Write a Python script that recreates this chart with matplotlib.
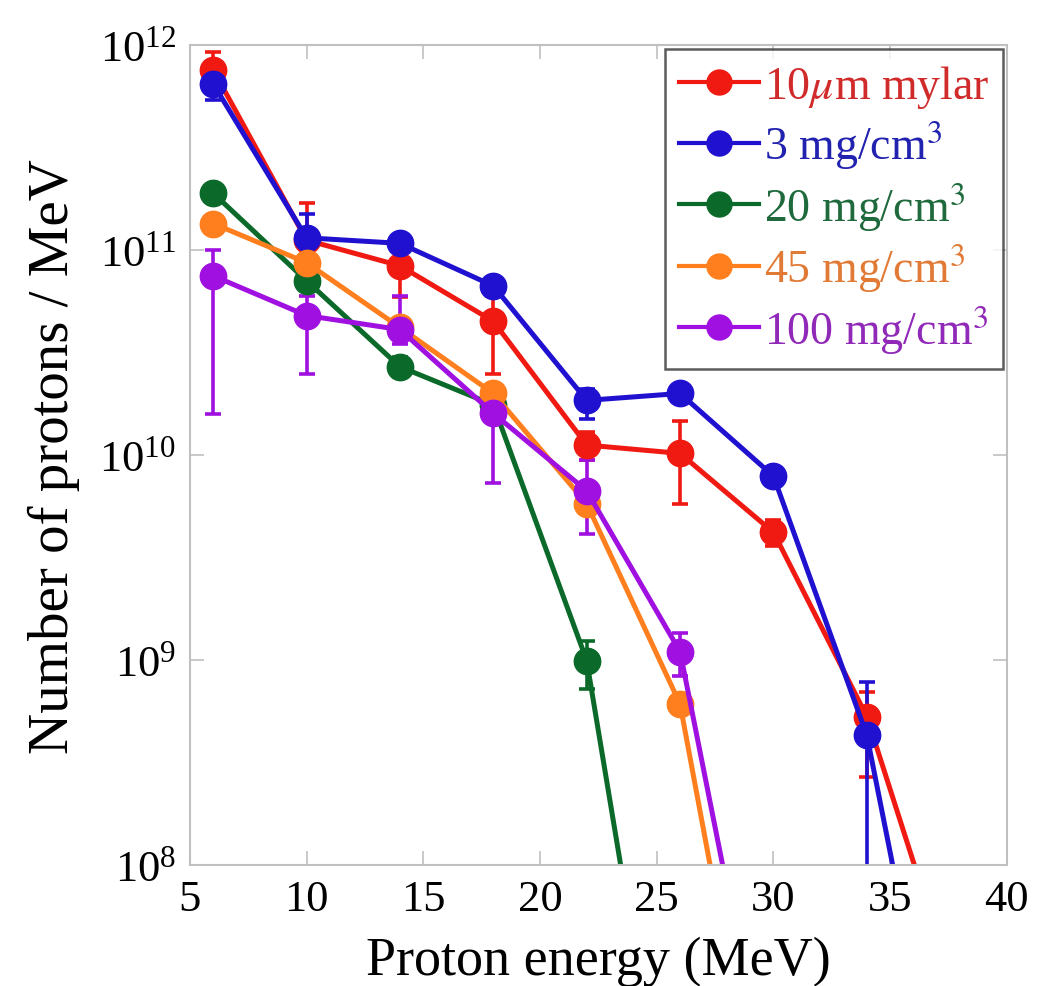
import matplotlib
matplotlib.use('agg')
import matplotlib.pyplot as plt
import numpy as np
from matplotlib.lines import Line2D
from matplotlib.ticker import LogLocator, LogFormatterMathtext, NullLocator

# energies (MeV); last value of each series lies below the axis floor
x_red = [6, 10, 14, 18, 22, 26, 30, 34, 38]
y_red = [7.6e11, 1.12e11, 8.4e10, 4.5e10, 1.12e10, 1.02e10, 4.2e9, 5.3e8, 2e7]
lo_red = [6.6e11, 9.5e10, 5.9e10, 2.5e10, 9.5e9, 5.8e9, 3.6e9, 2.7e8, 2e7]
hi_red = [9.3e11, 1.7e11, 1.0e11, 6.0e10, 1.3e10, 1.47e10, 4.8e9, 7.0e8, 2e7]

x_blue = [6, 10, 14, 18, 22, 26, 30, 34, 38]
y_blue = [6.5e11, 1.15e11, 1.08e11, 6.7e10, 1.85e10, 2.0e10, 7.9e9, 4.3e8, 2.2e6]
lo_blue = [5.4e11, 1.0e11, 1.0e11, 6.2e10, 1.5e10, 1.9e10, 7.5e9, 1e7, 2.2e6]
hi_blue = [7.5e11, 1.5e11, 1.15e11, 7.2e10, 2.1e10, 2.1e10, 8.3e9, 7.8e8, 2.2e6]

x_green = [6, 10, 14, 18, 22, 26]
y_green = [1.9e11, 7.1e10, 2.7e10, 1.76e10, 9.95e8, 1.8e6]
lo_green = [1.75e11, 6.5e10, 2.4e10, 1.7e10, 7.2e8, 1.8e6]
hi_green = [2.05e11, 7.7e10, 3.0e10, 1.8e10, 1.24e9, 1.8e6]

x_orange = [6, 10, 14, 18, 22, 26, 30]
y_orange = [1.35e11, 8.7e10, 4.2e10, 2.0e10, 5.8e9, 6.1e8, 2.2e6]
lo_orange = [1.25e11, 8.2e10, 4.0e10, 1.9e10, 5.4e9, 5.7e8, 2.2e6]
hi_orange = [1.45e11, 9.2e10, 4.4e10, 2.1e10, 6.2e9, 6.5e8, 2.2e6]

x_purple = [6, 10, 14, 18, 22, 26, 30]
y_purple = [7.5e10, 4.8e10, 4.1e10, 1.6e10, 6.7e9, 1.1e9, 5.7e6]
lo_purple = [1.58e10, 2.5e10, 3.5e10, 7.3e9, 4.1e9, 8.4e8, 5.7e6]
hi_purple = [1.0e11, 6.0e10, 6.0e10, 2.0e10, 9.5e9, 1.35e9, 5.7e6]

labels = ['10$\\mu$m mylar', '3 mg/cm$^3$', '20 mg/cm$^3$', '45 mg/cm$^3$', '100 mg/cm$^3$']
colors = ['#f01a12', '#2010d0', '#0b6a2a', '#ff7f1e', '#a010e0']
text_colors = ['#d02a2a', '#2222b0', '#1f6a3c', '#e07a35', '#9028b8']

plt.rcParams['font.family'] = ['Liberation Serif', 'DejaVu Serif']
plt.rcParams['mathtext.fontset'] = 'stix'

fig = plt.figure(figsize=(10.37, 9.87), dpi=100)
ax = fig.add_axes([0.183, 0.1226, 0.788, 0.8305])

series = [
    (x_red, y_red, lo_red, hi_red),
    (x_blue, y_blue, lo_blue, hi_blue),
    (x_green, y_green, lo_green, hi_green),
    (x_orange, y_orange, lo_orange, hi_orange),
    (x_purple, y_purple, lo_purple, hi_purple),
]
handles = []
for (x, y, lo, hi), lab, c in zip(series, labels, colors):
    y = np.array(y)
    err = [y - np.array(lo), np.array(hi) - y]
    ax.errorbar(x, y, yerr=err, fmt='-o', color=c, lw=3.6, ms=19,
                elinewidth=2.6, capsize=6, capthick=2.6)
    handles.append(Line2D([], [], color=c, lw=3.0, marker='o', ms=18, label=lab))

ax.set_yscale('log')
ax.set_xlim(5, 40)
ax.set_ylim(1e8, 1e12)
ax.set_xticks([5, 10, 15, 20, 25, 30, 35, 40])
ax.yaxis.set_major_locator(LogLocator(base=10, numticks=10))
ax.yaxis.set_major_formatter(LogFormatterMathtext())
ax.yaxis.set_minor_locator(NullLocator())

for s in ax.spines.values():
    s.set_color('#c0c0c0')
    s.set_linewidth(1.5)
ax.tick_params(which='both', direction='in', top=True, right=True,
               length=10, width=1.2, color='#c0c0c0', labelsize=32, pad=10)

ax.set_xlabel('Proton energy (MeV)', fontsize=39, labelpad=12)
ax.set_ylabel('Number of protons / MeV', fontsize=41, labelpad=14)

leg = ax.legend(handles=handles, loc='upper right', fontsize=33, frameon=True,
                fancybox=False, borderaxespad=0.08, handlelength=1.75,
                handletextpad=0.1, labelspacing=0.2, borderpad=0.3)
leg.get_frame().set_edgecolor('#333333')
leg.get_frame().set_linewidth(1.8)
for t, c in zip(leg.get_texts(), text_colors):
    t.set_color(c)

plt.savefig('out.png', dpi=100)
